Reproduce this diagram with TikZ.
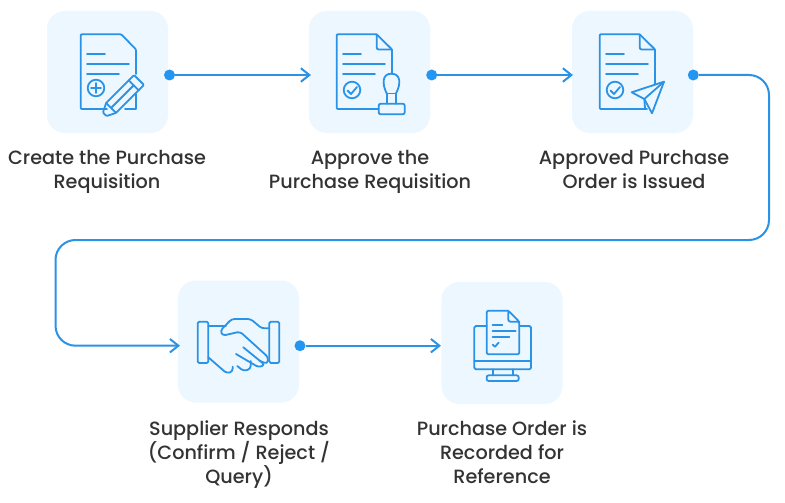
\documentclass[tikz,border=0pt]{standalone}
\usepackage{fontspec}
\setmainfont{Poppins}[UprightFont=* Medium]
\definecolor{ln}{HTML}{2B93E6}
\definecolor{dotc}{HTML}{2196F3}
\definecolor{tilec}{HTML}{ECF7FF}
\definecolor{txt}{HTML}{333333}
\usetikzlibrary{arrows.meta}
\tikzset{
 tile/.style={fill=tilec,draw=none,rounded corners=18pt,minimum width=121pt,minimum height=122pt,inner sep=0pt},
 dotn/.style={circle,fill=dotc,draw=none,minimum size=11pt,inner sep=0pt},
 capt/.style={align=center,font=\fontsize{19.2}{24}\selectfont,text=txt,inner sep=0pt,anchor=north},
 conn/.style={draw=ln,line width=2pt,-{Straight Barb[length=8.5pt,width=13.5pt,line width=2pt]}},
 ic/.style={draw=ln,line width=1.8pt,line join=round,line cap=round},
 zic/.style={ic,x=0.3333pt,y=-0.3333pt},
}
\begin{document}
\begin{tikzpicture}[x=1pt,y=-1pt]
\useasboundingbox (0,0) rectangle (785,503);
\fill[white] (0,0) rectangle (785,503);
% tiles
\node[tile] (t1) at (107.5,72) {};
\node[tile] (t2) at (369.5,72) {};
\node[tile] (t3) at (632.5,72) {};
\node[tile] (t4) at (238.5,341.5) {};
\node[tile] (t5) at (502,343) {};
% dots
\node[dotn] (d1) at (169.5,75) {};
\node[dotn] (d2) at (431.7,75) {};
\node[dotn] (d3) at (693.3,75) {};
\node[dotn] (d4) at (300,345.7) {};
\coordinate (a1) at (311,75);
\coordinate (a2) at (573,75);
\coordinate (a4) at (180,345.7);
\coordinate (a5) at (441,345.7);
% connectors
\draw[conn] (d1) -- (a1);
\draw[conn] (d2) -- (a2);
\draw[conn] (d4) -- (a5);
\draw[conn,rounded corners=20pt] (d3) -- (769,75) -- (769,240) -- (55.5,240) -- (55.5,345.7) -- (a4);
% captions
\node[capt] (c1) at (107,150) {Create the Purchase\\Requisition};
\node[capt] (c2) at (370,150) {Approve the\\Purchase Requisition};
\node[capt] (c3) at (634,150) {Approved Purchase\\Order is Issued};
\node[capt] (c4) at (239,421) {Supplier Responds\\(Confirm / Reject /\\Query)};
\node[capt] (c5) at (502,421) {Purchase Order is\\Recorded for\\Reference};
% icon 1
\draw[ic,rounded corners=1pt] (107,109) -- (80.7,109) -- (80.7,34.3) -- (121.3,34.3) -- (136,49.5) -- (136,74);
\draw[ic] (125,109) -- (136,109) -- (136,94);
\draw[ic] (87,53.7) -- (105,53.7) (87,63.7) -- (129,63.7) (87,73.7) -- (119,73.7);
\draw[ic] (96,88) circle (8.3);
\draw[ic] (96,83) -- (96,93) (91,88) -- (101,88);
\begin{scope}[shift={(104,115)},rotate=45]
\draw[ic,rounded corners=1pt] (10,-7) -- (49.5,-7) -- (49.5,7) -- (10,7) -- (1,2.5) -- (1,-2.5) -- cycle;
\draw[ic] (10,-7) -- (10,7) (42,-7) -- (42,7) (10,0) -- (42,0);
\end{scope}
% icon 2
\draw[ic,rounded corners=1pt] (378,109) -- (336.7,109) -- (336.7,34.3) -- (376.7,34.3) -- (392,49.5) -- (392,74);
\draw[ic,rounded corners=2pt] (376.7,34.3) -- (376.7,49.5) -- (392,49.5);
\draw[ic] (343,53.7) -- (361,53.7) (343,63.7) -- (385,63.7) (343,73.7) -- (375,73.7);
\draw[ic] (352,90) circle (8.3);
\draw[ic] (347.5,90.5) -- (351,94) -- (357,87);
\draw[ic,rounded corners=2pt] (378.7,103.7) rectangle (404.7,114.3);
\draw[ic] (386.7,103.7) -- (386.7,93.5) (396,103.7) -- (396,93.5) (386.7,93.5) -- (396,93.5);
\draw[ic] (386.7,93.5) .. controls (382,84) and (382,73.7) .. (391.3,73.7) .. controls (401,73.7) and (401,84) .. (396,93.5);
% icon 3
\draw[ic,rounded corners=1pt] (647,109) -- (599.7,109) -- (599.7,34.3) -- (639.7,34.3) -- (655,49.5) -- (655,84);
\draw[ic,rounded corners=2pt] (639.7,34.3) -- (639.7,49.5) -- (655,49.5);
\draw[ic] (606,53.7) -- (624,53.7) (606,63.7) -- (648,63.7) (606,73.7) -- (638,73.7);
\draw[ic] (615,90) circle (8.3);
\draw[ic] (610.5,90.5) -- (614,94) -- (620,87);
\draw[ic] (664,81.7) -- (631.7,92.3) -- (644.3,99) -- (652,113.3) -- cycle;
\draw[ic] (664,81.7) -- (644.3,99) -- (645,108);
% icon 4
\begin{scope}[shift={(160,270)}]
\draw[zic,rounded corners=1.5pt] (113,155) rectangle (145,279);
\draw[zic,rounded corners=1.5pt] (328,155) rectangle (358,279);
\draw[zic] (145,167) -- (198,167);
\draw[zic,rounded corners=3pt] (328,175) -- (305,175) -- (272,147) -- (215,147) -- (181,182) -- (188,197) -- (240,185) -- (325,262) -- (322,282) -- (298,272);
\draw[zic,rounded corners=3pt] (250,232) -- (315,285) -- (296,292) -- (228,252);
\draw[zic,rounded corners=3pt] (272,273) -- (272,297) -- (250,303) -- (232,288);
\draw[zic,rounded corners=3pt] (145,262) -- (200,310) -- (218,305) -- (218,290);
\end{scope}
% icon 5
\begin{scope}[shift={(420,270)}]
\draw[zic,rounded corners=1.5pt] (200,168) -- (163,168) -- (163,298) -- (333,298) -- (333,168) -- (298,168);
\draw[zic] (163,274) -- (333,274);
\draw[zic,rounded corners=2pt] (265,122) -- (200,122) -- (200,253) -- (298,253) -- (298,155) -- (265,122) -- (265,155) -- (298,155);
\draw[zic] (218,165) -- (247,165) (218,183) -- (287,183) (218,201) -- (268,201);
\draw[zic] (218,224) -- (225,230) -- (236,218);
\draw[zic] (218,298) -- (218,316) (278,298) -- (278,316);
\draw[zic,rounded corners=2pt] (200,316) rectangle (296,333);
\end{scope}
\end{tikzpicture}
\end{document}
